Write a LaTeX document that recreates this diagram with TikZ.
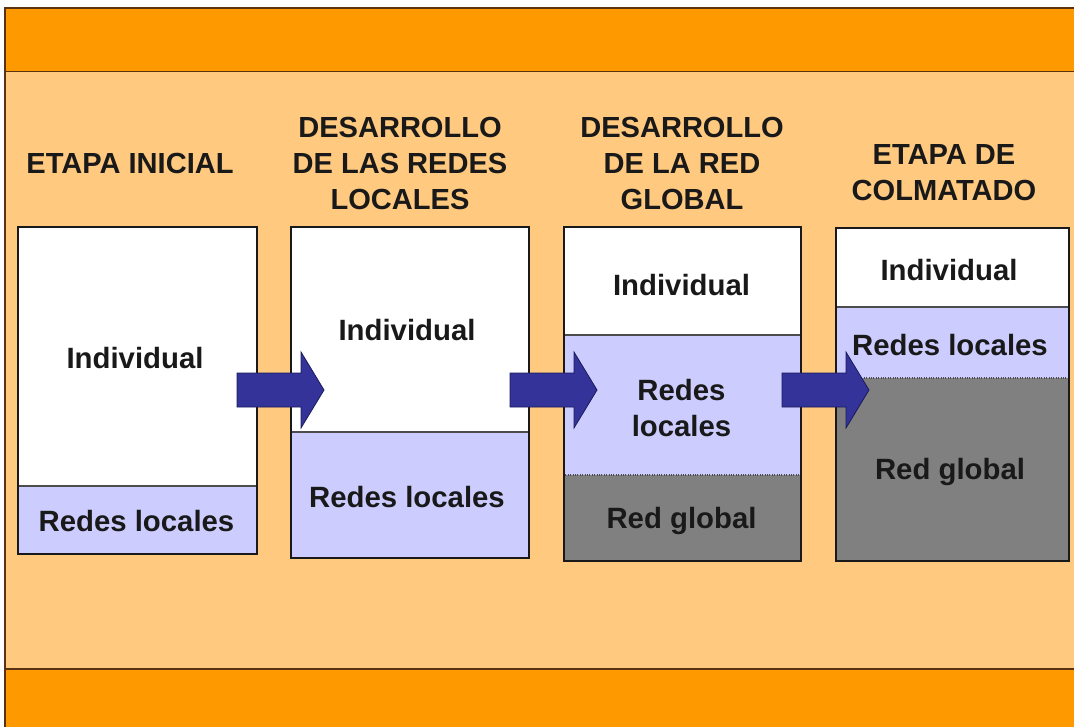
\documentclass[tikz,border=0pt]{standalone}
\usepackage{fontspec}
\setmainfont{Liberation Sans}
\definecolor{bandorange}{HTML}{FF9900}
\definecolor{lightorange}{HTML}{FFC980}
\definecolor{lav}{HTML}{CCCCFF}
\definecolor{globgray}{HTML}{808080}
\definecolor{arrowblue}{HTML}{333399}
\definecolor{arrowedge}{HTML}{1A1A5C}
\definecolor{edgebrown}{HTML}{5A3210}
\def\pxu{0.75pt}
\begin{document}
\begin{tikzpicture}[x=0.75pt,y=-0.75pt,
  hdr/.style={font=\bfseries\fontsize{21.8}{27}\selectfont, align=center, inner sep=0pt, text=black!90},
  lbl/.style={font=\bfseries\fontsize{22}{27}\selectfont, align=center, inner sep=0pt, text=black!90},
  stageframe/.style={draw=black!90, line width=1.8pt, inner sep=0pt, anchor=north west},
  sepline/.style={draw=black!70, line width=0.8pt},
  dotsep/.style={draw=black!70, line width=0.8pt, densely dotted},
  blockarrow/.style={draw=arrowedge, fill=arrowblue, line width=0.6pt, line join=miter}
]
\useasboundingbox (0,0) rectangle (1074,727);
% background
\fill[white] (0,0) rectangle (1074,727);
\fill[lightorange] (4,72) rectangle (1074,669);
\fill[bandorange] (4,8) rectangle (1074,72);
\fill[bandorange] (4,669) rectangle (1074,727);
\draw[edgebrown, line width=1.5pt] (4,8) -- (1074,8);
\draw[edgebrown, line width=1.3pt] (4,71.5) -- (1074,71.5);
\draw[edgebrown, line width=1.3pt] (4,669) -- (1074,669);
\draw[edgebrown, line width=1.5pt] (4.5,8) -- (4.5,727);

% headers
\node[hdr] (h1) at (130,163) {ETAPA INICIAL};
\node[hdr] (h2) at (400,163) {DESARROLLO\\DE LAS REDES\\LOCALES};
\node[hdr] (h3) at (682,163) {DESARROLLO\\DE LA RED\\GLOBAL};
\node[hdr] (h4) at (944,173) {ETAPA DE\\COLMATADO};

% box 1
\fill[white] (17,226) rectangle (256,486);
\fill[lav] (17,486) rectangle (256,553);
\draw[sepline] (17,486) -- (256,486);
\node[stageframe, minimum width=239*\pxu, minimum height=327*\pxu] (b1) at (17,226) {};
\node[lbl] (b1i) at (135,358) {Individual};
\node[lbl] (b1r) at (136.5,521) {Redes locales};

% box 2
\fill[white] (290,226) rectangle (528,432);
\fill[lav] (290,432) rectangle (528,557);
\draw[sepline] (290,432) -- (528,432);
\node[stageframe, minimum width=238*\pxu, minimum height=331*\pxu] (b2) at (290,226) {};
\node[lbl] (b2i) at (407,330) {Individual};
\node[lbl] (b2r) at (407,497) {Redes locales};

% box 3
\fill[white] (563,226) rectangle (800,335);
\fill[lav] (563,335) rectangle (800,475);
\fill[globgray] (563,475) rectangle (800,560);
\draw[sepline] (563,335) -- (800,335);
\draw[dotsep] (563,475) -- (800,475);
\node[stageframe, minimum width=237*\pxu, minimum height=334*\pxu] (b3) at (563,226) {};
\node[lbl] (b3i) at (681.5,285) {Individual};
\node[lbl] (b3r) at (681.5,408) {Redes\\locales};
\node[lbl] (b3g) at (681.5,521) {Red global};

% box 4
\fill[white] (835,227) rectangle (1068,307);
\fill[lav] (835,307) rectangle (1068,378);
\fill[globgray] (835,378) rectangle (1068,560);
\draw[sepline] (835,307) -- (1068,307);
\draw[dotsep] (835,378) -- (1068,378);
\node[stageframe, minimum width=233*\pxu, minimum height=333*\pxu] (b4) at (835,227) {};
\node[lbl] (b4i) at (949,270) {Individual};
\node[lbl] (b4r) at (950,345) {Redes locales};
\node[lbl] (b4g) at (950,472) {Red global};

% arrows (block arrows from one stage to the next)
\coordinate (a1) at (237,390);
\coordinate (a2) at (510,390);
\coordinate (a3) at (782,390);
\foreach \a in {a1,a2,a3}{
  \draw[blockarrow] (\a) ++(0,-17) -- ++(64,0) -- ++(0,-21) -- ++(23,38)
     -- ++(-23,38) -- ++(0,-21) -- ++(-64,0) -- cycle;
}
\end{tikzpicture}
\end{document}
